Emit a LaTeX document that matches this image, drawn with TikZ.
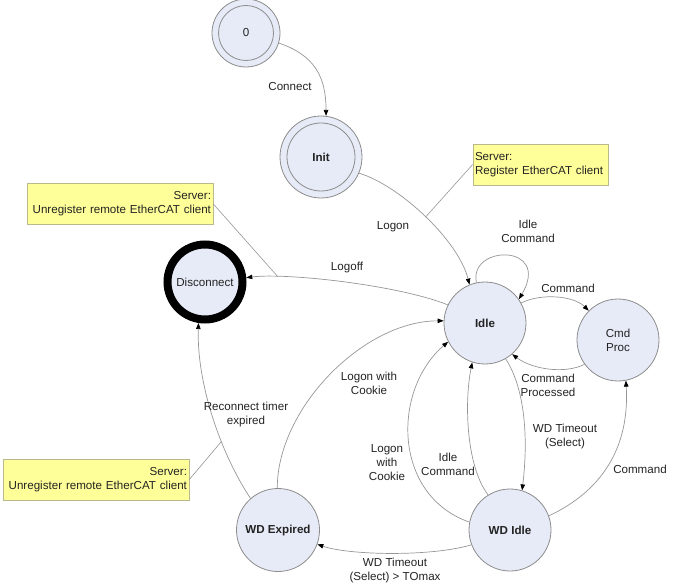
\documentclass[tikz,border=0pt]{standalone}
\usepackage{fontspec}
\setmainfont{Liberation Sans}
\usetikzlibrary{arrows.meta}
\definecolor{nfill}{RGB}{231,235,247}
\definecolor{nline}{RGB}{140,140,140}
\definecolor{eline}{RGB}{150,150,150}
\definecolor{notefill}{RGB}{255,255,153}
\definecolor{noteline}{RGB}{185,185,140}
\definecolor{txt}{RGB}{35,35,35}
\begin{document}
\begin{tikzpicture}[x=1pt,y=1pt,
  font=\fontsize{11.6}{14}\selectfont, text=txt,
  state/.style={circle, draw=nline, fill=nfill, line width=0.8pt, minimum size=82pt, inner sep=0pt, align=center},
  edge/.style={draw=eline, line width=0.7pt, -{Triangle[length=6pt,width=4.5pt,color=black]}},
  lbl/.style={align=center, inner sep=1pt},
  note/.style={draw=noteline, fill=notefill, line width=0.7pt, minimum height=41pt, inner xsep=2pt, inner ysep=0pt},
  notelink/.style={draw=eline, line width=0.6pt}]
\useasboundingbox (0,0) rectangle (678,-588);

% states
\node[state, minimum size=68pt] (zero) at (246,-33) {};
\draw[nline, line width=0.8pt] (zero.center) circle (27.5);
\node (zerot) at (zero.center) {0};
\node[state] (init) at (321,-157) {};
\draw[nline, line width=0.8pt] (init.center) circle (34);
\node (initt) at (init.center) {\bfseries Init};
\node[state] (idle) at (485,-323) {\bfseries Idle};
\node[state] (cmd) at (618,-340) {Cmd\\Proc};
\node[state, draw=black, line width=8pt, minimum size=75pt] (disc) at (205,-282) {Disconnect};
\node[state, minimum size=83pt] (wdexp) at (278,-530) {\bfseries WD Expired};
\node[state] (wdidle) at (510,-530) {\bfseries WD Idle};

% notes
\node[note, text width=131pt, align=left] (n1) at (540.5,-164.5) {Server:\\Register EtherCAT client};
\node[note, text width=182pt, align=right] (n2) at (120,-204) {Server:\\Unregister remote EtherCAT client};
\node[note, text width=182pt, align=right] (n3) at (96,-479.5) {Server:\\Unregister remote EtherCAT client};

% transitions
\draw[edge] (zero.-17) .. controls +(35,-12) and +(0,40) .. (init.83);
\draw[edge] (init.-23.5) .. controls +(41,-12.5) and +(-11,44) .. coordinate[pos=0.5] (k1) (idle.112.5);
\draw[edge] (idle.102) .. controls +(-8,38) and +(33,56) .. (idle.35);
\draw[edge] (idle.29) .. controls +(20,10) and +(-15,15) .. (cmd.135);
\draw[edge] (cmd.-144.5) .. controls +(-20,-10) and +(20,-15) .. (idle.-49.7);
\draw[edge] (idle.154.6) .. controls +(-50,20) and +(40,5) .. coordinate[pos=0.8] (k2) (disc.6);
\draw[edge] (wdexp.131) .. controls +(-30,45) and +(-2,-60) .. coordinate[pos=0.36] (k3) (disc.-99);
\draw[edge] (wdexp.91) .. controls +(0,80) and +(-80,0) .. (idle.177);
\draw[edge] (wdidle.169) .. controls +(-77,27) and +(-56,-48) .. (idle.-153);
\draw[edge] (wdidle.122.6) .. controls +(-22,29) and +(-8,-40) .. (idle.-108);
\draw[edge] (idle.-60.6) .. controls +(20,-31) and +(6,50) .. (wdidle.73.7);
\draw[edge] (wdidle.20) .. controls +(51,24) and +(4,-69) .. (cmd.-79);
\draw[edge] (wdidle.-159.4) .. controls +(-40,-12) and +(32,-11) .. (wdexp.-20);

% note links
\draw[notelink] (n1.west) -- (k1);
\draw[notelink] (n2.east) -- (k2);
\draw[notelink] (n3.east) -- (k3);

% labels
\node[lbl] (lconnect) at (290,-87) {Connect};
\node[lbl] (llogon) at (393,-227) {Logon};
\node[lbl] (lidlecmd) at (528,-231) {Idle\\Command};
\node[lbl] (lcmd) at (568,-288) {Command};
\node[lbl] (lcmdproc) at (548,-385) {Command\\Processed};
\node[lbl] (llogoff) at (347,-268) {Logoff};
\node[lbl] (lrecon) at (246,-415) {Reconnect timer\\expired};
\node[lbl] (lcookie1) at (369,-383) {Logon with\\Cookie};
\node[lbl] (lcookie2) at (387,-463) {Logon\\with\\Cookie};
\node[lbl] (lidlecmd2) at (448,-464) {Idle\\Command};
\node[lbl] (lwdto) at (565,-436) {WD Timeout\\(Select)};
\node[lbl] (lcmd2) at (640,-469) {Command};
\node[lbl] (ltomax) at (395,-570) {WD Timeout\\(Select) > TOmax};
\end{tikzpicture}
\end{document}
